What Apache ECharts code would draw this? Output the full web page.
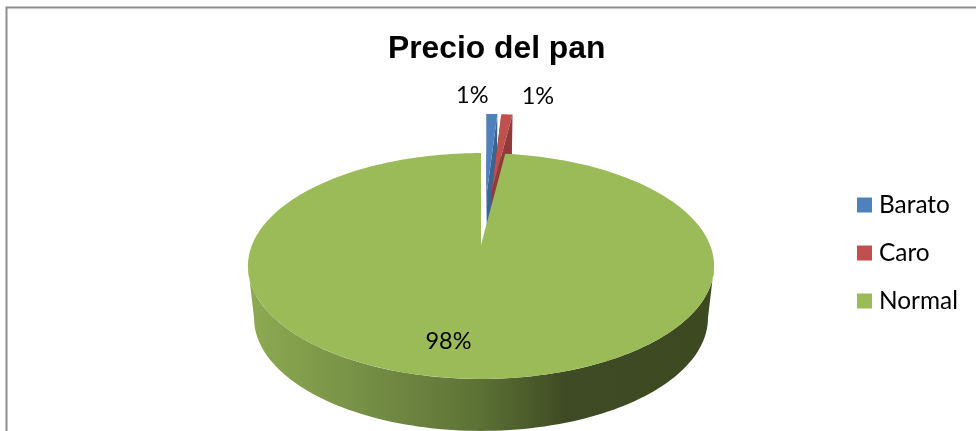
<!DOCTYPE html>
<html>
<head>
<meta charset="utf-8">
<title>Precio del pan</title>
<style>html,body{margin:0;padding:0;background:#fff}#chart{width:976px;height:431px}</style>
<script src="https://cdn.jsdelivr.net/npm/echarts@6/dist/echarts.min.js"></script>
</head>
<body>
<div id="chart"></div>
<script>
const categories = ['Barato', 'Caro', 'Normal'];
const values = [1, 1, 98];
const titleText = 'Precio del pan';

const topColors = ['#4F81BD', '#C0504D', '#9BBB59'];
const wallColors = ['#3A6496', '#8E3B39', '#5F7537'];
const exploded = [0.55, 0.55, 0];
// Extra sideways drift of a pulled-out slice, in disc radii.
const drift = [0.012, 0, 0];
// Label shift relative to each slice's anchor point, in pixels.
const labelShift = [[-19.5, -18], [31, -18], [-20, 2]];
const labelRadius = [1, 1, 0.75];

// Tilted disc: a homography of the unit circle, with the thickness as a second plane.
const disc = { cx: 481, topY: 245, bottomY: 297, a: 109, bTop: 229, bBottom: 223, k: 0.186 };
const total = values.reduce((s, v) => s + v, 0);

function project(u, v, lower) {
  const w = 1 - disc.k * v;
  return [
    disc.cx + (lower ? disc.bBottom : disc.bTop) * u / w,
    (lower ? disc.bottomY : disc.topY) + disc.a * v / w
  ];
}
function ringPoint(deg, radius, shift, lower) {
  const t = deg * Math.PI / 180;
  return project(radius * Math.sin(t) + shift[0], -radius * Math.cos(t) + shift[1], lower);
}
function arc(from, to, shift, lower) {
  const n = Math.max(2, Math.ceil(Math.abs(to - from) / 1.5));
  const pts = [];
  for (let i = 0; i <= n; i++) pts.push(ringPoint(from + (to - from) * i / n, 1, shift, lower));
  return pts;
}

const sideGradient = new echarts.graphic.LinearGradient(248, 0, 714, 0, [
  { offset: 0, color: '#8EAA52' },
  { offset: 0.32, color: '#6F8742' },
  { offset: 0.5, color: '#5C7135' },
  { offset: 0.68, color: '#3F4B24' },
  { offset: 1, color: '#3D4921' }
], true);

function renderSlice(index) {
  return function (params, api) {
    const value = api.value(0);
    const start = values.slice(0, index).reduce((s, v) => s + v, 0) / total * 360;
    const end = start + value / total * 360;
    const mid = (start + end) / 2 * Math.PI / 180;
    const shift = [exploded[index] * Math.sin(mid) + drift[index], -exploded[index] * Math.cos(mid)];
    const children = [];

    if (exploded[index] === 0) {
      // Rim between the two points where the disc is widest.
      const edge = Math.acos(-disc.k) * 180 / Math.PI;
      const upper = arc(Math.max(start, edge), Math.min(end, 360 - edge), shift, false);
      const lowerArc = arc(Math.max(start, edge), Math.min(end, 360 - edge), shift, true).reverse();
      children.push({
        type: 'polygon',
        shape: { points: upper.concat(lowerArc) },
        style: { fill: sideGradient }
      });
    } else {
      // Radial cut faces of a pulled-out slice.
      [start, end].forEach(function (deg) {
        children.push({
          type: 'polygon',
          shape: { points: [
            project(shift[0], shift[1], false),
            ringPoint(deg, 1, shift, false),
            ringPoint(deg, 1, shift, true),
            project(shift[0], shift[1], true)
          ] },
          style: { fill: wallColors[index] }
        });
      });
    }

    children.push({
      type: 'polygon',
      shape: { points: [project(shift[0], shift[1], false)].concat(arc(start, end, shift, false)) },
      style: { fill: topColors[index] }
    });

    const anchor = ringPoint((start + end) / 2, labelRadius[index], shift, false);
    children.push({
      type: 'text',
      z2: 10,
      style: {
        text: Math.round(value / total * 100) + '%',
        x: anchor[0] + labelShift[index][0],
        y: anchor[1] + labelShift[index][1],
        align: 'center',
        verticalAlign: 'middle',
        fill: '#000',
        fontFamily: 'Lato',
        fontSize: 23.5
      }
    });
    return { type: 'group', children: children };
  };
}

const chart = echarts.init(document.getElementById('chart'), null, { renderer: 'canvas' });
chart.setOption({
  backgroundColor: '#fff',
  animation: false,
  title: {
    text: titleText,
    left: 383,
    top: 28,
    textStyle: { fontFamily: 'Liberation Sans', fontWeight: 'bold', fontSize: 31.8, color: '#000' }
  },
  legend: {
    orient: 'vertical',
    left: 852,
    top: 186,
    icon: 'rect',
    itemWidth: 15,
    itemHeight: 15,
    itemGap: 20,
    data: categories,
    selectedMode: false,
    textStyle: { fontFamily: 'Lato', fontSize: 24.4, color: '#000', lineHeight: 28, padding: [0, 0, 0, 2] }
  },
  graphic: [{
    type: 'polyline',
    silent: true,
    shape: { points: [[6.5, 431], [6.5, 7.5], [976, 7.5]] },
    style: { stroke: '#8C8C8C', lineWidth: 2, fill: null }
  }],
  series: categories.map(function (name, i) {
    return {
      type: 'custom',
      name: name,
      coordinateSystem: 'none',
      silent: true,
      z: 2 + i,
      itemStyle: { color: topColors[i] },
      renderItem: renderSlice(i),
      data: [[values[i]]]
    };
  })
});
</script>
</body>
</html>
